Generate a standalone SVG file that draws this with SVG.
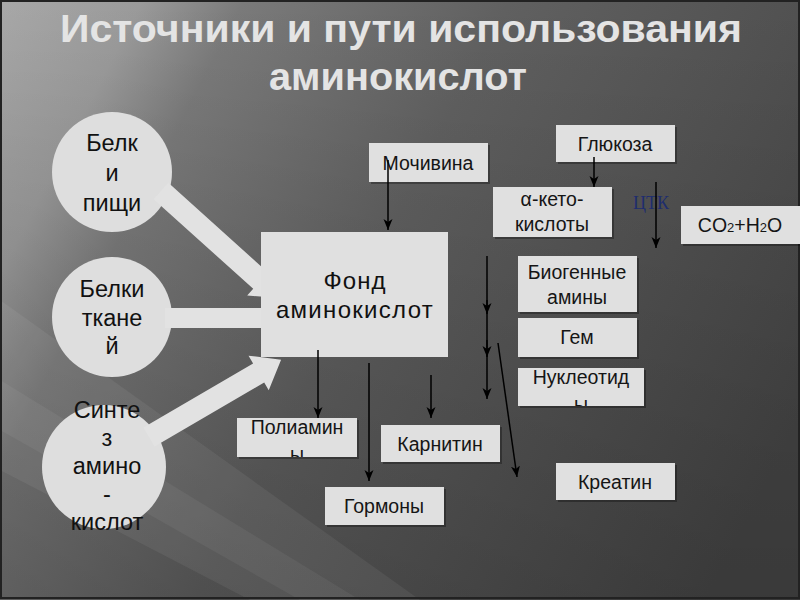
<svg xmlns="http://www.w3.org/2000/svg" width="800" height="600" viewBox="0 0 800 600">
<defs>
<linearGradient id="bg" x1="0" y1="0" x2="800" y2="420" gradientUnits="userSpaceOnUse">
<stop offset="0" stop-color="#a8a8a8"/>
<stop offset="0.14" stop-color="#9a9a9a"/>
<stop offset="0.24" stop-color="#7a7a7a"/>
<stop offset="0.5" stop-color="#606060"/>
<stop offset="1" stop-color="#464646"/>
</linearGradient>
<linearGradient id="shade" x1="0" y1="0" x2="0" y2="600" gradientUnits="userSpaceOnUse">
<stop offset="0" stop-color="#000" stop-opacity="0"/>
<stop offset="1" stop-color="#000" stop-opacity="0.18"/>
</linearGradient>
<marker id="ah" markerWidth="12" markerHeight="10" refX="11" refY="4.5" orient="auto" markerUnits="userSpaceOnUse">
<path d="M0,0 L11,4.5 L0,9 L3,4.5 z" fill="#000"/>
</marker>
<clipPath id="notFond">
<path clip-rule="evenodd" d="M0,0 H800 V600 H0 Z M261,232 V357 H448 V232 Z"/>
</clipPath>
<clipPath id="cNuk"><rect x="518" y="368" width="126" height="38"/></clipPath>
<clipPath id="cPol"><rect x="237" y="418" width="120" height="39"/></clipPath>
</defs>
<style>
.title{font-family:"Liberation Sans",Arial,sans-serif;font-weight:bold;font-size:39px;fill:#e4e4e4;text-anchor:middle}
.box{fill:#e0e0e0}
.sh{fill:#000;opacity:0.3}
.t{font-family:"Liberation Sans",Arial,sans-serif;font-size:19.5px;fill:#151515;text-anchor:middle}
.ct{font-family:"Liberation Sans",Arial,sans-serif;font-size:23.5px;fill:#111;text-anchor:middle}
.circ{fill:#dedede}
.big{fill:#e2e2e2}
.thin{stroke:#000;stroke-width:1.5;fill:none;marker-end:url(#ah)}
.ctk{font-family:"Liberation Serif","Times New Roman",serif;font-size:18px;fill:#1e2d6e}
</style>
<g id="background">
<rect x="0" y="0" width="800" height="600" fill="url(#bg)"/>
<rect x="0" y="0" width="800" height="600" fill="url(#shade)"/>
<polygon points="0,300 0,470 250,600 420,600" fill="#fff" opacity="0.06"/>
<polygon points="0,380 0,430 300,600 360,600" fill="#fff" opacity="0.05"/>
<rect x="1" y="1" width="798" height="597" fill="none" stroke="#222" stroke-width="2"/>
</g>
<g id="title">
<text class="title" x="401" y="42" textLength="682" lengthAdjust="spacingAndGlyphs">Источники и пути использования</text>
<text class="title" x="398" y="90" textLength="258" lengthAdjust="spacingAndGlyphs">аминокислот</text>
</g>
<g id="nodes">
<g id="n-belki-pishchi">
<circle class="circ" cx="112" cy="172" r="60"/>
<text class="ct" x="112" y="151">Белк</text>
<text class="ct" x="112" y="181">и</text>
<text class="ct" x="112" y="211">пищи</text>
</g>
<g id="n-belki-tkanei">
<circle class="circ" cx="112" cy="317" r="60"/>
<text class="ct" x="112" y="297">Белки</text>
<text class="ct" x="112" y="326">ткане</text>
<text class="ct" x="112" y="354">й</text>
</g>
<g id="n-sintez">
<circle class="circ" cx="104" cy="467" r="62"/>
<text class="ct" x="107" y="418">Синте</text>
<text class="ct" x="107" y="446">з</text>
<text class="ct" x="107" y="474">амино</text>
<text class="ct" x="107" y="502">-</text>
<text class="ct" x="107" y="530">кислот</text>
</g>
<g id="n-fond">
<rect class="box" x="261" y="232" width="187" height="125"/>
<text class="ct" x="355" y="289" style="font-size:24px;letter-spacing:1px">Фонд</text>
<text class="ct" x="355" y="318" style="font-size:24px;letter-spacing:1.3px">аминокислот</text>
</g>
<g id="n-mochevina">
<rect class="sh" x="371" y="145" width="119" height="39"/>
<rect class="box" x="369" y="143" width="119" height="39"/>
<text class="t" x="428" y="170">Мочивина</text>
</g>
<g id="n-glukoza">
<rect class="sh" x="558" y="127" width="119" height="37"/>
<rect class="box" x="556" y="125" width="119" height="37"/>
<text class="t" x="615" y="151">Глюкоза</text>
</g>
<g id="n-ketokisloty">
<rect class="sh" x="495" y="189" width="119" height="50"/>
<rect class="box" x="493" y="187" width="119" height="50"/>
<text class="t" x="552" y="206">α-кето-</text>
<text class="t" x="552" y="231">кислоты</text>
</g>
<g id="n-co2">
<rect class="sh" x="683" y="208" width="119" height="38"/>
<rect class="box" x="681" y="206" width="119" height="38"/>
<text class="t" x="740" y="232">CO<tspan style="font-size:13px">2</tspan>+H<tspan style="font-size:13px">2</tspan>O</text>
</g>
<g id="n-biogen">
<rect class="sh" x="520" y="258" width="119" height="56"/>
<rect class="box" x="518" y="256" width="119" height="56"/>
<text class="t" x="577" y="279">Биогенные</text>
<text class="t" x="577" y="304">амины</text>
</g>
<g id="n-gem">
<rect class="sh" x="520" y="320" width="119" height="39"/>
<rect class="box" x="518" y="318" width="119" height="39"/>
<text class="t" x="577" y="344">Гем</text>
</g>
<g id="n-nukleotidy">
<rect class="sh" x="520" y="370" width="126" height="38"/>
<rect class="box" x="518" y="368" width="126" height="38"/>
<g clip-path="url(#cNuk)">
<text class="t" x="581" y="384">Нуклеотид</text>
<text class="t" x="581" y="411">ы</text>
</g>
</g>
<g id="n-poliaminy">
<rect class="sh" x="239" y="420" width="120" height="39"/>
<rect class="box" x="237" y="418" width="120" height="39"/>
<g clip-path="url(#cPol)">
<text class="t" x="297" y="434">Полиамин</text>
<text class="t" x="297" y="461">ы</text>
</g>
</g>
<g id="n-karnitin">
<rect class="sh" x="383" y="427" width="119" height="37"/>
<rect class="box" x="381" y="425" width="119" height="37"/>
<text class="t" x="440" y="451">Карнитин</text>
</g>
<g id="n-gormony">
<rect class="sh" x="327" y="489" width="119" height="38"/>
<rect class="box" x="325" y="487" width="119" height="38"/>
<text class="t" x="384" y="513">Гормоны</text>
</g>
<g id="n-kreatin">
<rect class="sh" x="558" y="465" width="119" height="37"/>
<rect class="box" x="556" y="463" width="119" height="37"/>
<text class="t" x="615" y="489">Креатин</text>
</g>
<text id="ctk" class="ctk" x="633" y="209">ЦТК</text>
</g>
<g id="connectors">
<g clip-path="url(#notFond)">
<polygon class="big" transform="translate(161,191) rotate(42)" points="0,-11 134,-11 134,-20 160,0 134,20 134,11 0,11"/>
<polygon class="big" transform="translate(165,318)" points="0,-10 110,-10 110,-20 135,0 110,20 110,10 0,10"/>
<polygon class="big" transform="translate(149,437) rotate(-30.3)" points="0,-11 127,-11 127,-20 153,0 127,20 127,11 0,11"/>
</g>
<line class="thin" x1="388" y1="160" x2="388" y2="230"/>
<line class="thin" x1="594" y1="157" x2="594" y2="187"/>
<line class="thin" x1="656" y1="182" x2="656" y2="248"/>
<line class="thin" x1="487" y1="256" x2="487" y2="314"/>
<line class="thin" x1="487" y1="300" x2="487" y2="357"/>
<line class="thin" x1="487" y1="340" x2="487" y2="399"/>
<line class="thin" x1="498" y1="343" x2="517" y2="477"/>
<line class="thin" x1="318" y1="350" x2="318" y2="418"/>
<line class="thin" x1="369" y1="363" x2="369" y2="481"/>
<line class="thin" x1="431" y1="375" x2="431" y2="418"/>
</g>
</svg>
